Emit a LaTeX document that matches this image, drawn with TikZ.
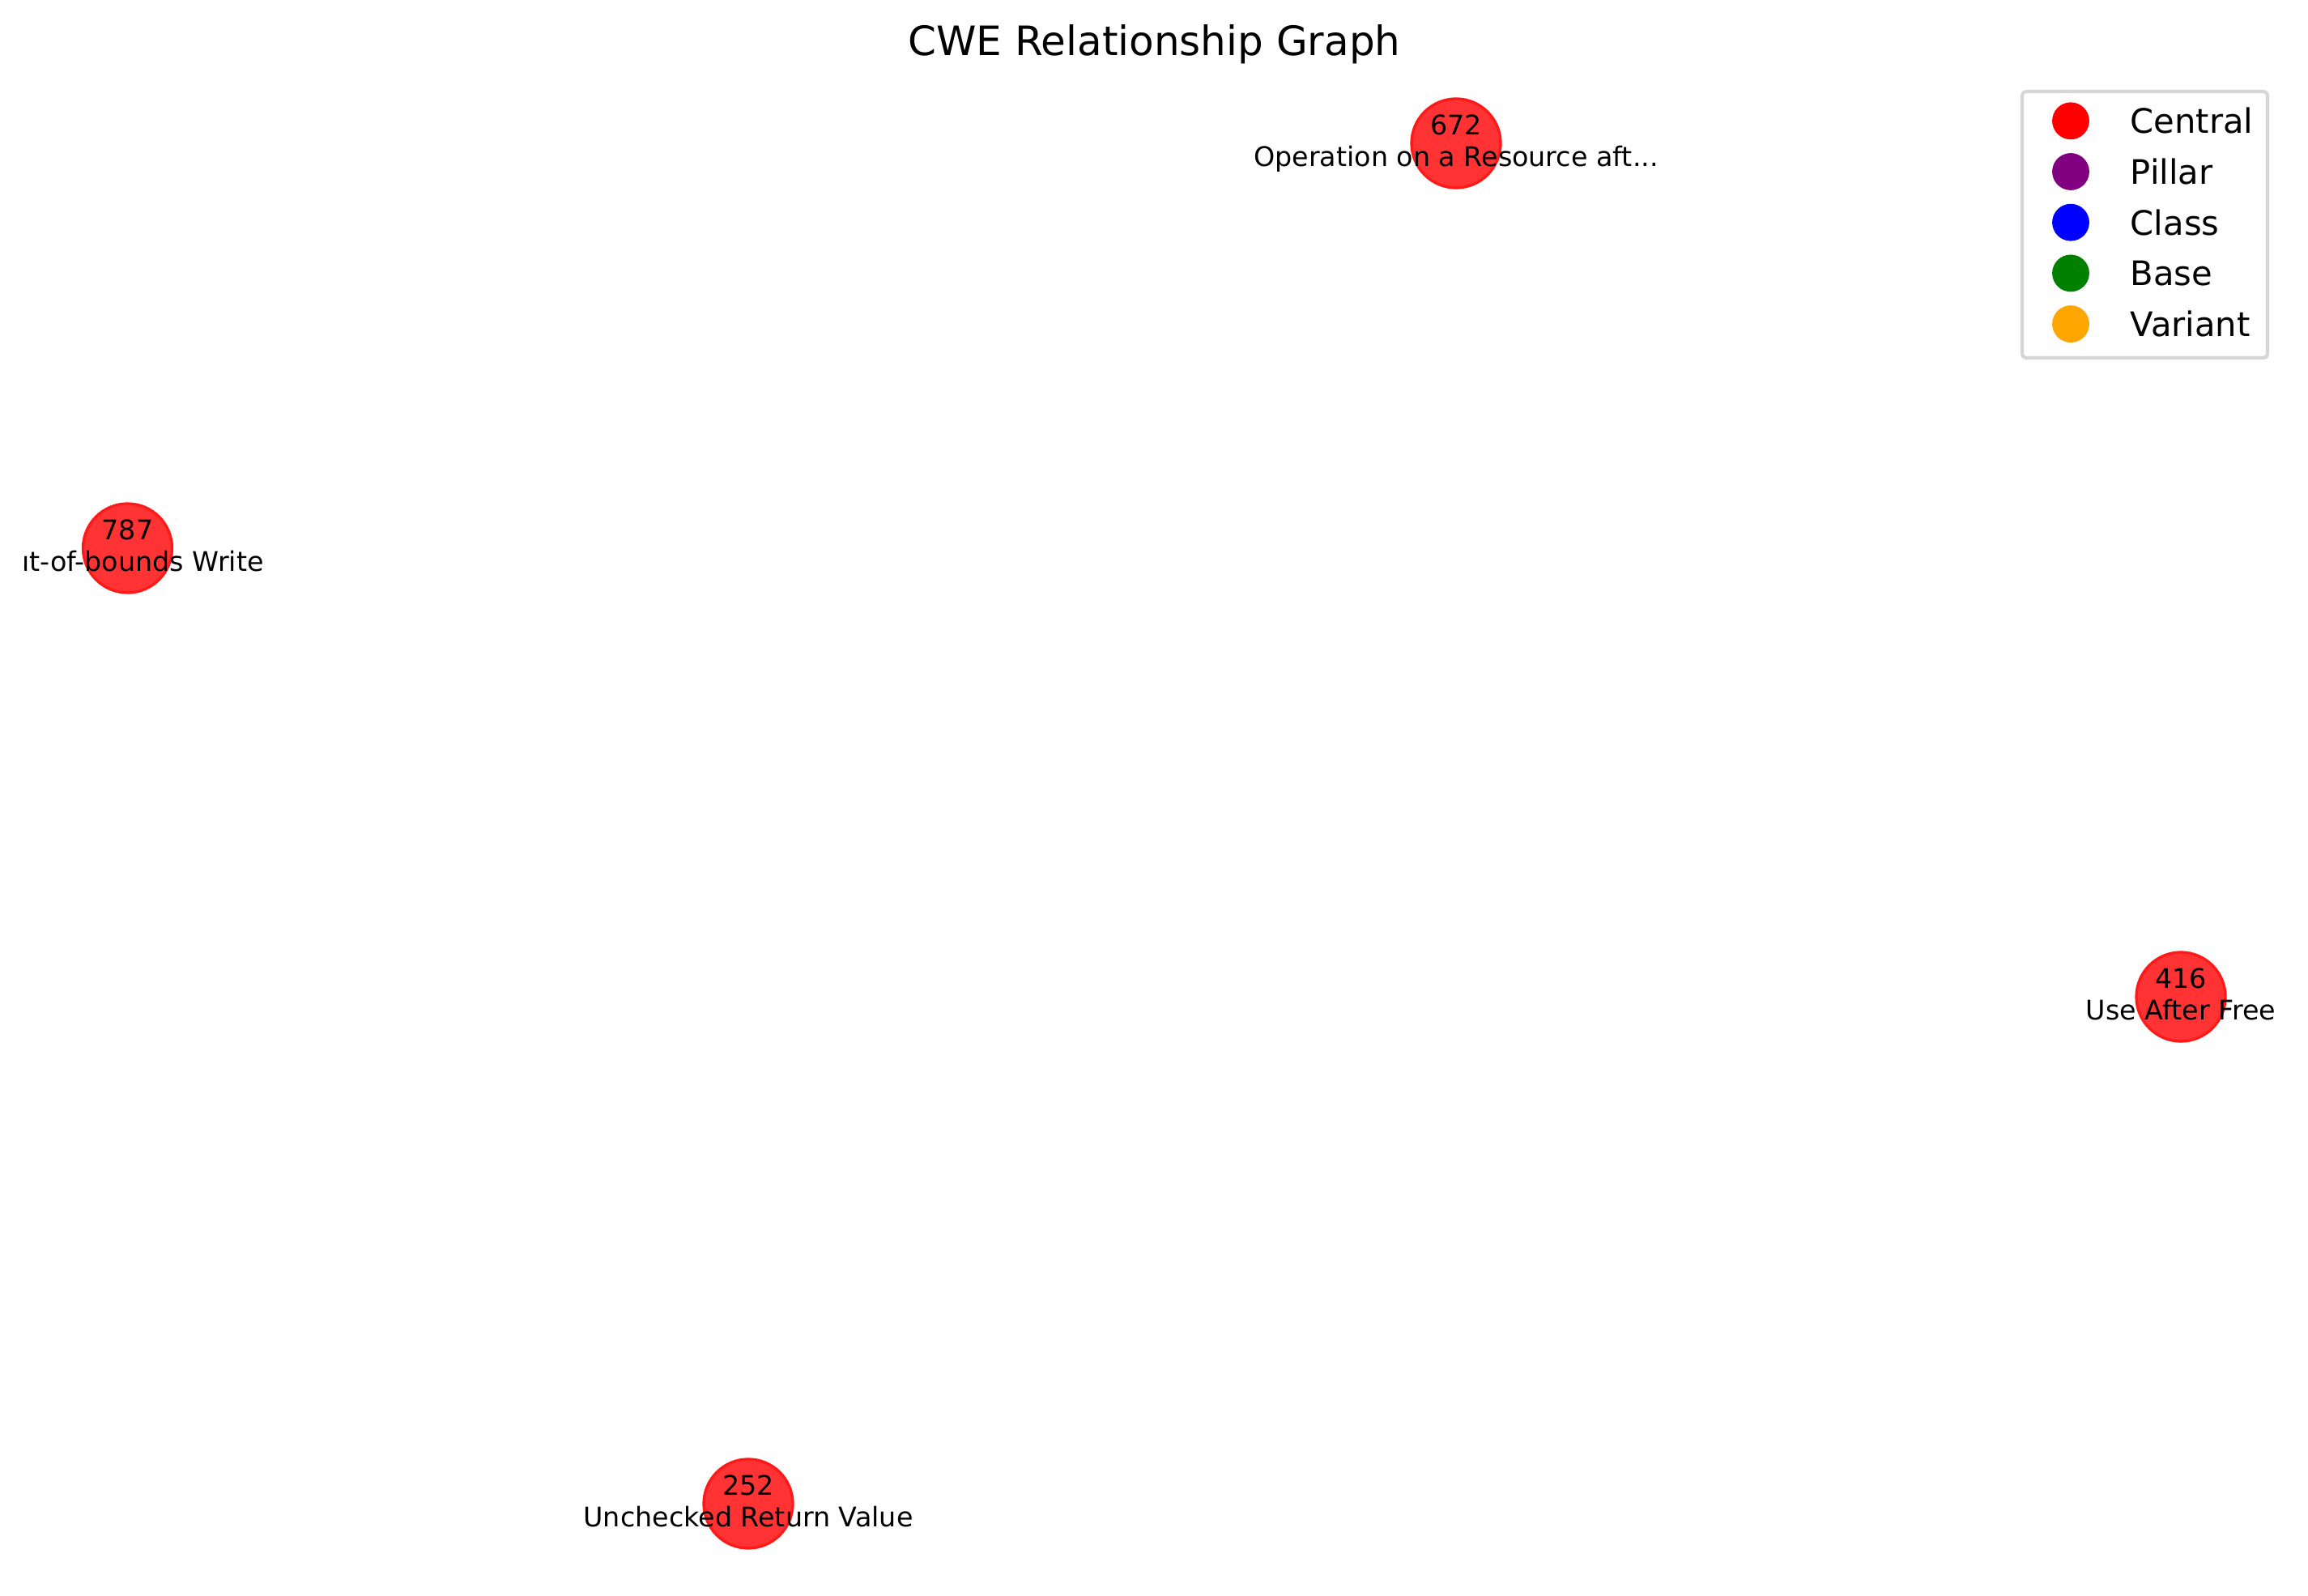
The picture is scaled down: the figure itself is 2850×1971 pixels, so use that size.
\documentclass[tikz,border=0pt]{standalone}
\usepackage{fontspec}
\setmainfont{DejaVu Sans}
\definecolor{mplPurple}{RGB}{128,0,128}
\definecolor{mplGreen}{RGB}{0,128,0}
\definecolor{mplOrange}{RGB}{255,165,0}
\definecolor{frameGray}{RGB}{214,214,214}

\begin{document}
\begin{tikzpicture}[x=0.24pt, y=-0.24pt,
        cwe/.style={circle, fill=red!80, draw=red!90, line width=0.8pt, minimum size=26.4pt, inner sep=0pt},
        cwetext/.style={font=\fontsize{8}{9.6}\selectfont, inner sep=0pt, anchor=base},
        marker/.style={circle, minimum size=11pt, inner sep=0pt},
        legendtext/.style={font=\fontsize{10}{12}\selectfont, inner sep=0pt, anchor=base west}]

      \useasboundingbox (0,0) rectangle (2850,1971);

      % Title
      \node[font=\fontsize{12}{14.4}\selectfont, inner sep=0pt, anchor=base] (title) at (1425.5,69) {CWE Relationship Graph};

      \begin{scope}
        \clip (30,92) rectangle (2821,1941);

        % CWE nodes
        \node[cwe] (cwe672) at (1798,177) {};
        \node[cwe] (cwe787) at (157.5,677) {};
        \node[cwe] (cwe416) at (2693,1231) {};
        \node[cwe] (cwe252) at (924,1857) {};

        % IDs and names
        \foreach \id in {672,787,416,252}
          \node[cwetext] (num\id) at ([yshift=2.5pt]cwe\id.center) {\id};
        \node[cwetext] (desc672) at ([yshift=-6.9pt]cwe672.center) {Operation on a Resource aft...};
        \node[cwetext] (desc787) at ([yshift=-6.9pt]cwe787.center) {Out-of-bounds Write};
        \node[cwetext] (desc416) at ([yshift=-6.9pt]cwe416.center) {Use After Free};
        \node[cwetext] (desc252) at ([yshift=-6.9pt]cwe252.center) {Unchecked Return Value};
      \end{scope}

      % Legend
      \draw[frameGray, line width=1pt, rounded corners=1.2pt, fill=white] (2497,113) rectangle (2800,442);
      \foreach \name/\col [count=\i from 0] in {Central/red, Pillar/mplPurple, Class/blue, Base/mplGreen, Variant/mplOrange} {
        \node[marker, fill=\col] (mark\name) at (2557,149.3+62.7*\i) {};
        \node[legendtext] (key\name) at (2630,164.8+62.7*\i) {\name};
      }

    \end{tikzpicture}
\end{document}
